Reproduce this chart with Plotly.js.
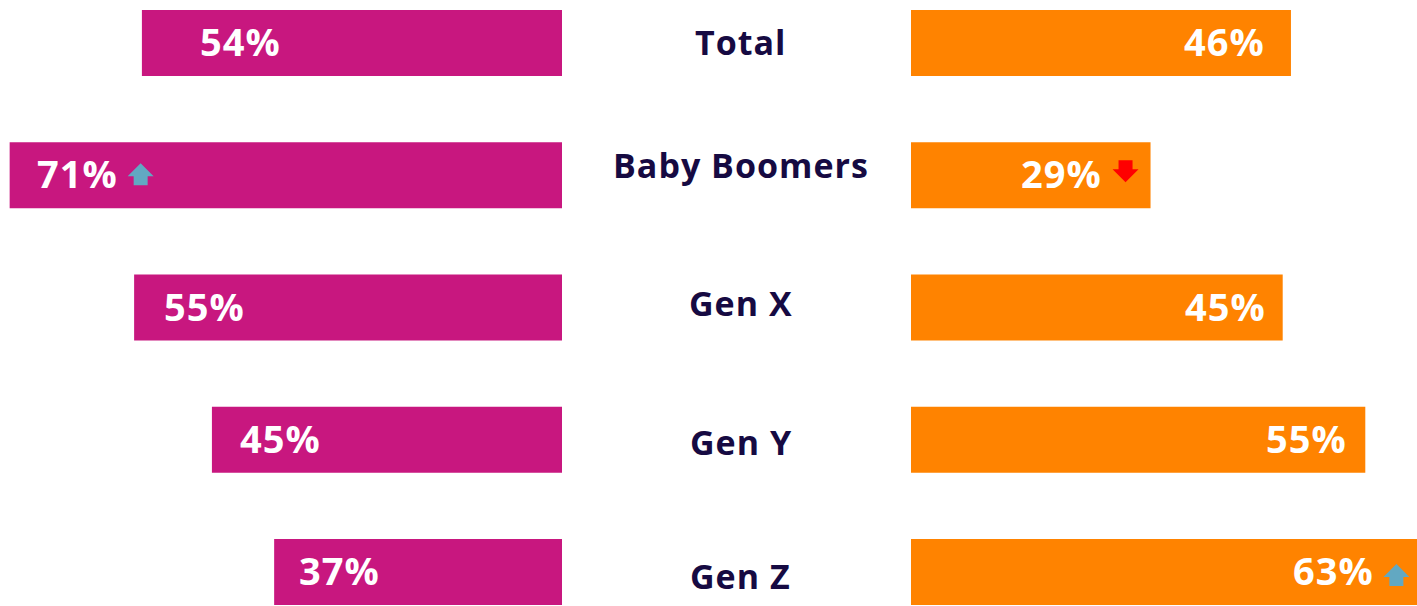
<!DOCTYPE html>
<html>
<head>
<meta charset="utf-8">
<script src="https://cdn.plot.ly/plotly-3.0.1.min.js"></script>
<style>
  html, body { margin: 0; padding: 0; overflow: hidden; background: #ffffff; }
  #chart { width: 1440px; height: 606px; }
  .annotation-text { letter-spacing: 1px; }
</style>
</head>
<body>
<div id="chart"></div>
<script>
// ---- data ----
const categories = ['Total', 'Baby Boomers', 'Gen X', 'Gen Y', 'Gen Z'];
const leftValues = [54, 71, 55, 45, 37];
const rightValues = [46, 29, 45, 55, 63];
const leftLabels = ['54%', '71%', '55%', '45%', '37%'];
const rightLabels = ['46%', '29%', '45%', '55%', '63%'];
const leftTrend = [null, 'up', null, null, null];
const rightTrend = [null, 'down', null, null, 'up'];

// ---- styling ----
const W = 1440, H = 606;
const MAGENTA = '#C8177F';
const ORANGE = '#FF8300';
const NAVY = '#160A42';
const UP = '#62A8C2';
const DOWN = '#FF0000';
const FONT = '"Open Sans", Lato, sans-serif';

const leftLabelShift = [56, 25, 28, 26, 23];
const rightLabelShift = [-24, -47, -15, -16, -55];
const catShift = [1, 10, 5, -2, -4];
const leftArrowOff = [null, [131, 1], null, null, null];
const rightArrowOff = [null, [-25, 4], null, null, [-35, -3]];

const traces = [
  {
    type: 'bar', orientation: 'h',
    x: leftValues, y: categories,
    xaxis: 'x', yaxis: 'y',
    marker: { color: MAGENTA },
    width: 0.5, hoverinfo: 'skip'
  },
  {
    type: 'bar', orientation: 'h',
    x: rightValues, y: categories,
    xaxis: 'x2', yaxis: 'y',
    marker: { color: ORANGE },
    width: 0.5, hoverinfo: 'skip'
  }
];

const annotations = [];
categories.forEach((c, i) => {
  annotations.push({
    xref: 'paper', yref: 'y', x: 741 / W, y: i,
    xanchor: 'center', yanchor: 'middle', yshift: catShift[i],
    text: '<b>' + c + '</b>', showarrow: false,
    font: { family: FONT, size: 34, color: NAVY }
  });
  annotations.push({
    xref: 'x', yref: 'y', x: leftValues[i], y: i,
    xanchor: 'left', yanchor: 'middle', xshift: leftLabelShift[i], yshift: 2,
    text: '<b>' + leftLabels[i] + '</b>', showarrow: false,
    font: { family: FONT, size: 38, color: '#ffffff' }
  });
  annotations.push({
    xref: 'x2', yref: 'y', x: rightValues[i], y: i,
    xanchor: 'right', yanchor: 'middle', xshift: rightLabelShift[i], yshift: 2,
    text: '<b>' + rightLabels[i] + '</b>', showarrow: false,
    font: { family: FONT, size: 38, color: '#ffffff' }
  });
});

function arrowPath(dir, dx, dy) {
  // block arrow, 26px wide, 22px tall; y positive = up
  const s = dir === 'up' ? 1 : -1;
  const pts = [
    [0, 11 * s], [13, -2 * s], [7, -2 * s], [7, -11 * s],
    [-7, -11 * s], [-7, -2 * s], [-13, -2 * s]
  ];
  return 'M' + pts.map(p => (p[0] + dx) + ',' + (p[1] + dy)).join(' L') + ' Z';
}

const shapes = [];
categories.forEach((c, i) => {
  if (leftTrend[i]) {
    shapes.push({
      type: 'path', xref: 'x', yref: 'y',
      xsizemode: 'pixel', ysizemode: 'pixel',
      xanchor: leftValues[i], yanchor: i,
      path: arrowPath(leftTrend[i], leftArrowOff[i][0], leftArrowOff[i][1]),
      fillcolor: leftTrend[i] === 'up' ? UP : DOWN, line: { width: 0 }
    });
  }
  if (rightTrend[i]) {
    shapes.push({
      type: 'path', xref: 'x2', yref: 'y',
      xsizemode: 'pixel', ysizemode: 'pixel',
      xanchor: rightValues[i], yanchor: i,
      path: arrowPath(rightTrend[i], rightArrowOff[i][0], rightArrowOff[i][1]),
      fillcolor: rightTrend[i] === 'up' ? UP : DOWN, line: { width: 0 }
    });
  }
});

const layout = {
  width: W, height: H,
  margin: { l: 0, r: 0, t: 0, b: 0, pad: 0 },
  paper_bgcolor: '#ffffff', plot_bgcolor: '#ffffff',
  showlegend: false,
  xaxis: {
    domain: [0, 562 / W], range: [72.24, 0],
    showgrid: false, zeroline: false, showticklabels: false, showline: false, ticks: ''
  },
  xaxis2: {
    domain: [911 / W, 1], range: [0, (W - 911) / 8.26], anchor: 'y',
    showgrid: false, zeroline: false, showticklabels: false, showline: false, ticks: ''
  },
  yaxis: {
    type: 'category', categoryorder: 'array', categoryarray: categories,
    range: [4.257, -0.325],
    showgrid: false, zeroline: false, showticklabels: false, showline: false, ticks: ''
  },
  annotations: annotations,
  shapes: shapes
};

Plotly.newPlot('chart', traces, layout, { displayModeBar: false, staticPlot: true });
</script>
</body>
</html>
